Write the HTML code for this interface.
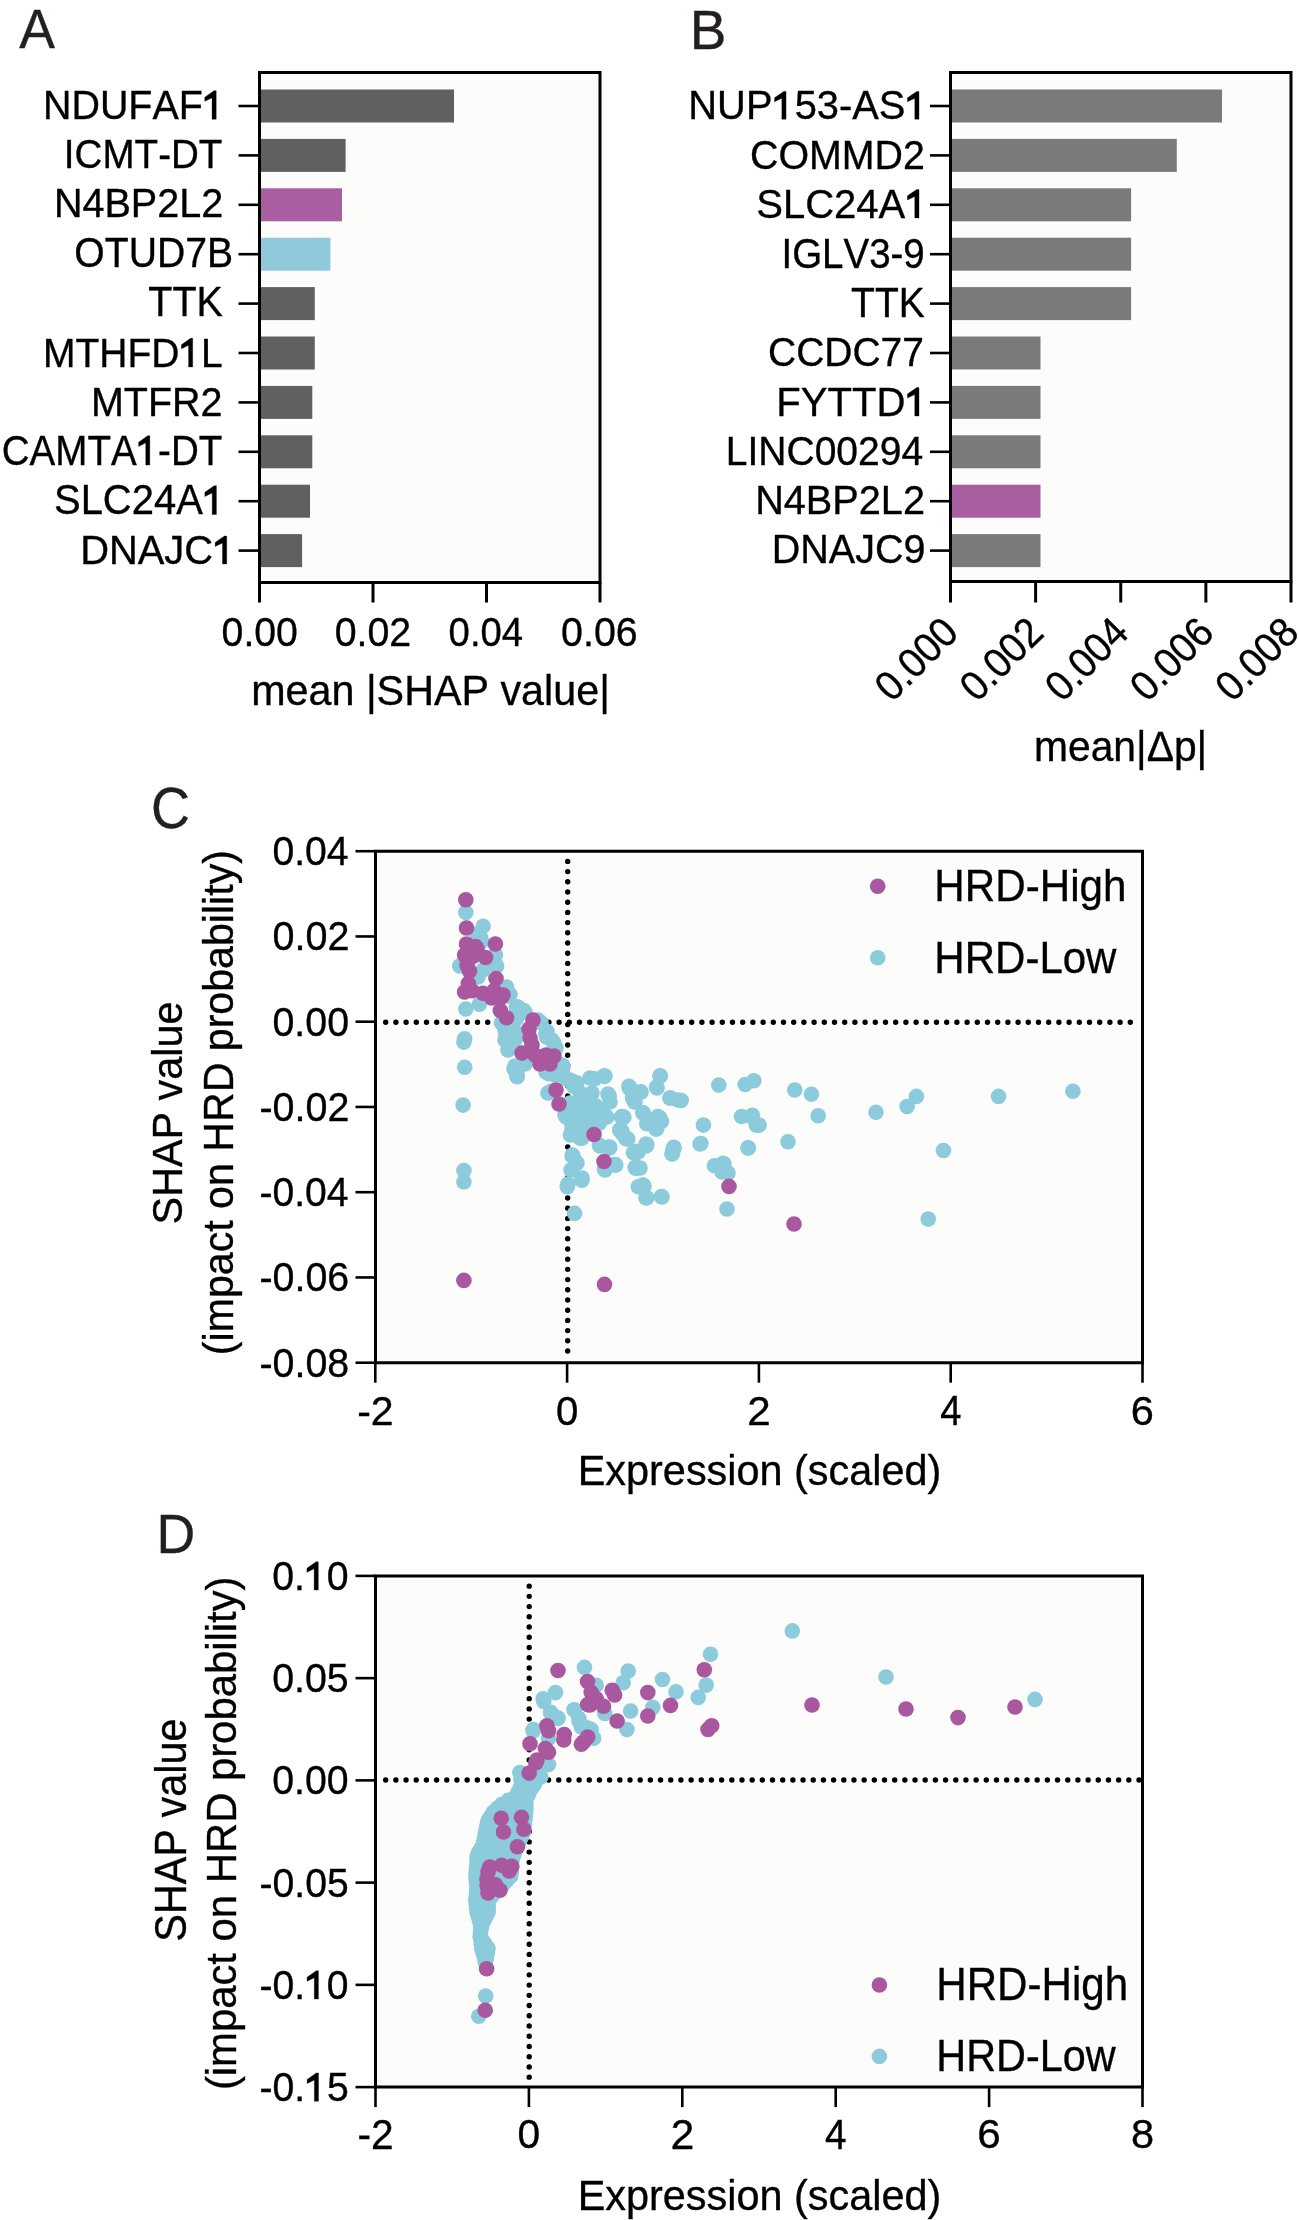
<!DOCTYPE html><html><head><meta charset="utf-8"><style>html,body{margin:0;padding:0;background:#fff;}svg{display:block;will-change:transform}text{font-family:"Liberation Sans", sans-serif;font-kerning:none;stroke-width:0.35px;}</style></head><body>
<svg width="1300" height="2220" viewBox="0 0 1300 2220">
<rect width="1300" height="2220" fill="#fff"/>
<rect x="259.5" y="72.5" width="340.5" height="510.0" fill="#fcfcfb"/>
<rect x="259.5" y="89.5" width="194.5" height="33" fill="#606060"/>
<rect x="259.5" y="138.9" width="86.1" height="33" fill="#606060"/>
<rect x="259.5" y="188.3" width="82.5" height="33" fill="#a85ea0"/>
<rect x="259.5" y="237.7" width="70.9" height="33" fill="#8fc9db"/>
<rect x="259.5" y="287.1" width="55.3" height="33" fill="#606060"/>
<rect x="259.5" y="336.5" width="55.3" height="33" fill="#606060"/>
<rect x="259.5" y="385.9" width="52.8" height="33" fill="#606060"/>
<rect x="259.5" y="435.3" width="52.8" height="33" fill="#606060"/>
<rect x="259.5" y="484.7" width="50.5" height="33" fill="#606060"/>
<rect x="259.5" y="534.1" width="42.6" height="33" fill="#606060"/>
<path d="M259.5,72.5H600V582.5H259.5Z" fill="none" stroke="#000" stroke-width="3"/>
<path d="M238.5,106H259.5" stroke="#000" stroke-width="2.6"/>
<path d="M238.5,155.4H259.5" stroke="#000" stroke-width="2.6"/>
<path d="M238.5,204.8H259.5" stroke="#000" stroke-width="2.6"/>
<path d="M238.5,254.2H259.5" stroke="#000" stroke-width="2.6"/>
<path d="M238.5,303.6H259.5" stroke="#000" stroke-width="2.6"/>
<path d="M238.5,353H259.5" stroke="#000" stroke-width="2.6"/>
<path d="M238.5,402.4H259.5" stroke="#000" stroke-width="2.6"/>
<path d="M238.5,451.8H259.5" stroke="#000" stroke-width="2.6"/>
<path d="M238.5,501.2H259.5" stroke="#000" stroke-width="2.6"/>
<path d="M238.5,550.6H259.5" stroke="#000" stroke-width="2.6"/>
<path d="M259.5,582.5V602.5" stroke="#000" stroke-width="3"/>
<path d="M373,582.5V602.5" stroke="#000" stroke-width="3"/>
<path d="M486.5,582.5V602.5" stroke="#000" stroke-width="3"/>
<path d="M600,582.5V602.5" stroke="#000" stroke-width="3"/>
<text transform="translate(42.97,119.2) scale(0.9549,1)" font-size="41.28" fill="#000" stroke="#000">NDUFAF </text>
<path transform="translate(42.97,119.2) scale(0.9549,1) translate(167.38,0) scale(0.02015,-0.02015)" d="M696,0L696,1409L582,1409L104,1091L104,888L481,1062L481,0Z" fill="#000" stroke="#000" stroke-width="0.35" vector-effect="non-scaling-stroke"/>
<text transform="translate(63.84,168.41) scale(0.9550,1)" font-size="40.40" fill="#000" stroke="#000">ICMT-DT</text>
<text transform="translate(53.96,216.8) scale(0.9652,1)" font-size="40.96" fill="#000" stroke="#000">N4BP2L2</text>
<text transform="translate(74.24,267.39) scale(0.9403,1)" font-size="41.67" fill="#000" stroke="#000">OTUD7B</text>
<text transform="translate(148.31,316.4) scale(0.9440,1)" font-size="41.86" fill="#000" stroke="#000">TTK</text>
<text transform="translate(43,366.9) scale(0.9379,1)" font-size="41.57" fill="#000" stroke="#000">MTHFD L</text>
<path transform="translate(43,366.9) scale(0.9379,1) translate(145.46,0) scale(0.02030,-0.02030)" d="M696,0L696,1409L582,1409L104,1091L104,888L481,1062L481,0Z" fill="#000" stroke="#000" stroke-width="0.35" vector-effect="non-scaling-stroke"/>
<text transform="translate(90.96,415.8) scale(0.9778,1)" font-size="40.39" fill="#000" stroke="#000">MTFR2</text>
<text transform="translate(1.74,464.98) scale(0.9040,1)" font-size="42.65" fill="#000" stroke="#000">CAMTA -DT</text>
<path transform="translate(1.74,464.98) scale(0.9040,1) translate(149.29,0) scale(0.02083,-0.02083)" d="M696,0L696,1409L582,1409L104,1091L104,888L481,1062L481,0Z" fill="#000" stroke="#000" stroke-width="0.35" vector-effect="non-scaling-stroke"/>
<text transform="translate(53.99,514.49) scale(0.9590,1)" font-size="41.67" fill="#000" stroke="#000">SLC24A </text>
<path transform="translate(53.99,514.49) scale(0.9590,1) translate(155.19,0) scale(0.02034,-0.02034)" d="M696,0L696,1409L582,1409L104,1091L104,888L481,1062L481,0Z" fill="#000" stroke="#000" stroke-width="0.35" vector-effect="non-scaling-stroke"/>
<text transform="translate(80.13,563.91) scale(0.9878,1)" font-size="40.40" fill="#000" stroke="#000">DNAJC </text>
<path transform="translate(80.13,563.91) scale(0.9878,1) translate(134.66,0) scale(0.01972,-0.01972)" d="M696,0L696,1409L582,1409L104,1091L104,888L481,1062L481,0Z" fill="#000" stroke="#000" stroke-width="0.35" vector-effect="non-scaling-stroke"/>
<text transform="translate(221.57,645.6) scale(0.9579,1)" font-size="40.96" fill="#000" stroke="#000">0.00</text>
<text transform="translate(334.66,645.6) scale(0.9611,1)" font-size="40.96" fill="#000" stroke="#000">0.02</text>
<text transform="translate(448.6,645.6) scale(0.9347,1)" font-size="40.96" fill="#000" stroke="#000">0.04</text>
<text transform="translate(561.06,645.6) scale(0.9617,1)" font-size="40.96" fill="#000" stroke="#000">0.06</text>
<text transform="translate(251.16,705.15) scale(0.9665,1)" font-size="42.71" fill="#000" stroke="#000">mean |SHAP value|</text>
<text transform="translate(19.3,48) scale(0.9617,1)" font-size="55.67" fill="#231f20" stroke="#231f20">A</text>
<rect x="950.5" y="72.5" width="340.5" height="509.0" fill="#fcfcfb"/>
<rect x="950.5" y="89.5" width="271.5" height="33" fill="#7a7a7a"/>
<rect x="950.5" y="138.9" width="226.3" height="33" fill="#7a7a7a"/>
<rect x="950.5" y="188.3" width="180.6" height="33" fill="#7a7a7a"/>
<rect x="950.5" y="237.7" width="180.6" height="33" fill="#7a7a7a"/>
<rect x="950.5" y="287.1" width="180.6" height="33" fill="#7a7a7a"/>
<rect x="950.5" y="336.5" width="90" height="33" fill="#7a7a7a"/>
<rect x="950.5" y="385.9" width="90" height="33" fill="#7a7a7a"/>
<rect x="950.5" y="435.3" width="90" height="33" fill="#7a7a7a"/>
<rect x="950.5" y="484.7" width="90" height="33" fill="#a85ea0"/>
<rect x="950.5" y="534.1" width="90" height="33" fill="#7a7a7a"/>
<path d="M950.5,72.5H1291V581.5H950.5Z" fill="none" stroke="#000" stroke-width="3"/>
<path d="M930,106H950.5" stroke="#000" stroke-width="2.6"/>
<path d="M930,155.4H950.5" stroke="#000" stroke-width="2.6"/>
<path d="M930,204.8H950.5" stroke="#000" stroke-width="2.6"/>
<path d="M930,254.2H950.5" stroke="#000" stroke-width="2.6"/>
<path d="M930,303.6H950.5" stroke="#000" stroke-width="2.6"/>
<path d="M930,353H950.5" stroke="#000" stroke-width="2.6"/>
<path d="M930,402.4H950.5" stroke="#000" stroke-width="2.6"/>
<path d="M930,451.8H950.5" stroke="#000" stroke-width="2.6"/>
<path d="M930,501.2H950.5" stroke="#000" stroke-width="2.6"/>
<path d="M930,550.6H950.5" stroke="#000" stroke-width="2.6"/>
<path d="M950.5,581.5V602.5" stroke="#000" stroke-width="3"/>
<path d="M1035.62,581.5V602.5" stroke="#000" stroke-width="3"/>
<path d="M1120.75,581.5V602.5" stroke="#000" stroke-width="3"/>
<path d="M1205.88,581.5V602.5" stroke="#000" stroke-width="3"/>
<path d="M1291,581.5V602.5" stroke="#000" stroke-width="3"/>
<text transform="translate(688.33,119.21) scale(0.9868,1)" font-size="40.40" fill="#000" stroke="#000">NUP 53-AS </text>
<path transform="translate(688.33,119.21) scale(0.9868,1) translate(85.29,0) scale(0.01972,-0.01972)" d="M696,0L696,1409L582,1409L104,1091L104,888L481,1062L481,0Z" fill="#000" stroke="#000" stroke-width="0.35" vector-effect="non-scaling-stroke"/>
<path transform="translate(688.33,119.21) scale(0.9868,1) translate(220.02,0) scale(0.01972,-0.01972)" d="M696,0L696,1409L582,1409L104,1091L104,888L481,1062L481,0Z" fill="#000" stroke="#000" stroke-width="0.35" vector-effect="non-scaling-stroke"/>
<text transform="translate(750,168.59) scale(0.9481,1)" font-size="41.52" fill="#000" stroke="#000">COMMD2</text>
<text transform="translate(756.18,217.99) scale(0.9647,1)" font-size="41.52" fill="#000" stroke="#000">SLC24A </text>
<path transform="translate(756.18,217.99) scale(0.9647,1) translate(154.66,0) scale(0.02028,-0.02028)" d="M696,0L696,1409L582,1409L104,1091L104,888L481,1062L481,0Z" fill="#000" stroke="#000" stroke-width="0.35" vector-effect="non-scaling-stroke"/>
<text transform="translate(781.45,267.59) scale(0.9086,1)" font-size="42.37" fill="#000" stroke="#000">IGLV3-9</text>
<text transform="translate(851.12,317) scale(0.9389,1)" font-size="41.57" fill="#000" stroke="#000">TTK</text>
<text transform="translate(768.02,366.01) scale(0.9716,1)" font-size="40.11" fill="#000" stroke="#000">CCDC77</text>
<text transform="translate(776.31,416) scale(0.9705,1)" font-size="41.28" fill="#000" stroke="#000">FYTTD </text>
<path transform="translate(776.31,416) scale(0.9705,1) translate(132.99,0) scale(0.02016,-0.02016)" d="M696,0L696,1409L582,1409L104,1091L104,888L481,1062L481,0Z" fill="#000" stroke="#000" stroke-width="0.35" vector-effect="non-scaling-stroke"/>
<text transform="translate(725.8,464.61) scale(0.9657,1)" font-size="40.40" fill="#000" stroke="#000">LINC00294</text>
<text transform="translate(755.15,514.4) scale(0.9894,1)" font-size="40.10" fill="#000" stroke="#000">N4BP2L2</text>
<text transform="translate(771.76,563.21) scale(0.9783,1)" font-size="40.40" fill="#000" stroke="#000">DNAJC9</text>
<text transform="translate(689.7,48.9) scale(0.9933,1)" font-size="55.23" fill="#231f20" stroke="#231f20">B</text>
<text transform="translate(891.9,703.3) rotate(-45) scale(0.9350,1)" font-size="41.50" fill="#000" stroke="#000">0.000</text>
<text transform="translate(977.02,703.3) rotate(-45) scale(0.9350,1)" font-size="41.50" fill="#000" stroke="#000">0.002</text>
<text transform="translate(1062.15,703.3) rotate(-45) scale(0.9350,1)" font-size="41.50" fill="#000" stroke="#000">0.004</text>
<text transform="translate(1147.28,703.3) rotate(-45) scale(0.9350,1)" font-size="41.50" fill="#000" stroke="#000">0.006</text>
<text transform="translate(1232.4,703.3) rotate(-45) scale(0.9350,1)" font-size="41.50" fill="#000" stroke="#000">0.008</text>
<text transform="translate(1033.99,760.69) scale(0.9604,1)" font-size="42.50" fill="#000" stroke="#000">mean|Δp|</text>
<rect x="375.5" y="851.2" width="767.0" height="511.5" fill="#fcfcfb"/>
<path d="M385.7,1022.2h0M395.9,1022.2h0M406.1,1022.2h0M416.3,1022.2h0M426.5,1022.2h0M436.7,1022.2h0M446.9,1022.2h0M457.1,1022.2h0M467.3,1022.2h0M477.5,1022.2h0M487.7,1022.2h0M497.9,1022.2h0M508.1,1022.2h0M518.3,1022.2h0M528.5,1022.2h0M538.7,1022.2h0M548.9,1022.2h0M559.1,1022.2h0M569.3,1022.2h0M579.5,1022.2h0M589.7,1022.2h0M599.9,1022.2h0M610.1,1022.2h0M620.3,1022.2h0M630.5,1022.2h0M640.7,1022.2h0M650.9,1022.2h0M661.1,1022.2h0M671.3,1022.2h0M681.5,1022.2h0M691.7,1022.2h0M701.9,1022.2h0M712.1,1022.2h0M722.3,1022.2h0M732.5,1022.2h0M742.7,1022.2h0M752.9,1022.2h0M763.1,1022.2h0M773.3,1022.2h0M783.5,1022.2h0M793.7,1022.2h0M803.9,1022.2h0M814.1,1022.2h0M824.3,1022.2h0M834.5,1022.2h0M844.7,1022.2h0M854.9,1022.2h0M865.1,1022.2h0M875.3,1022.2h0M885.5,1022.2h0M895.7,1022.2h0M905.9,1022.2h0M916.1,1022.2h0M926.3,1022.2h0M936.5,1022.2h0M946.7,1022.2h0M956.9,1022.2h0M967.1,1022.2h0M977.3,1022.2h0M987.5,1022.2h0M997.7,1022.2h0M1007.9,1022.2h0M1018.1,1022.2h0M1028.3,1022.2h0M1038.5,1022.2h0M1048.7,1022.2h0M1058.9,1022.2h0M1069.1,1022.2h0M1079.3,1022.2h0M1089.5,1022.2h0M1099.7,1022.2h0M1109.9,1022.2h0M1120.1,1022.2h0M1130.3,1022.2h0" stroke="#000" stroke-width="5.4" stroke-linecap="round" fill="none"/>
<path d="M567.7,861.4v0M567.7,871.6v0M567.7,881.8v0M567.7,892v0M567.7,902.2v0M567.7,912.4v0M567.7,922.6v0M567.7,932.8v0M567.7,943v0M567.7,953.2v0M567.7,963.4v0M567.7,973.6v0M567.7,983.8v0M567.7,994v0M567.7,1004.2v0M567.7,1014.4v0M567.7,1024.6v0M567.7,1034.8v0M567.7,1045v0M567.7,1055.2v0M567.7,1065.4v0M567.7,1075.6v0M567.7,1085.8v0M567.7,1096v0M567.7,1106.2v0M567.7,1116.4v0M567.7,1126.6v0M567.7,1136.8v0M567.7,1147v0M567.7,1157.2v0M567.7,1167.4v0M567.7,1177.6v0M567.7,1187.8v0M567.7,1198v0M567.7,1208.2v0M567.7,1218.4v0M567.7,1228.6v0M567.7,1238.8v0M567.7,1249v0M567.7,1259.2v0M567.7,1269.4v0M567.7,1279.6v0M567.7,1289.8v0M567.7,1300v0M567.7,1310.2v0M567.7,1320.4v0M567.7,1330.6v0M567.7,1340.8v0M567.7,1351v0" stroke="#000" stroke-width="5.4" stroke-linecap="round" fill="none"/>
<circle cx="465.8" cy="912.6" r="7.8" fill="#8ccbdc"/>
<circle cx="483.1" cy="926.2" r="7.8" fill="#8ccbdc"/>
<circle cx="477" cy="934" r="7.8" fill="#8ccbdc"/>
<circle cx="481.8" cy="941.5" r="7.8" fill="#8ccbdc"/>
<circle cx="495.4" cy="955" r="7.8" fill="#8ccbdc"/>
<circle cx="496.6" cy="966" r="7.8" fill="#8ccbdc"/>
<circle cx="459.7" cy="966" r="7.8" fill="#8ccbdc"/>
<circle cx="483" cy="970" r="7.8" fill="#8ccbdc"/>
<circle cx="478" cy="977" r="7.8" fill="#8ccbdc"/>
<circle cx="506.5" cy="987" r="7.8" fill="#8ccbdc"/>
<circle cx="510" cy="994.5" r="7.8" fill="#8ccbdc"/>
<circle cx="465.8" cy="1009" r="7.8" fill="#8ccbdc"/>
<circle cx="479.4" cy="1004.3" r="7.8" fill="#8ccbdc"/>
<circle cx="496" cy="966" r="7.8" fill="#8ccbdc"/>
<circle cx="507" cy="996" r="7.8" fill="#8ccbdc"/>
<circle cx="518" cy="1007" r="7.8" fill="#8ccbdc"/>
<circle cx="525" cy="1012" r="7.8" fill="#8ccbdc"/>
<circle cx="538" cy="1020" r="7.8" fill="#8ccbdc"/>
<circle cx="505" cy="1030" r="7.8" fill="#8ccbdc"/>
<circle cx="505" cy="1040" r="7.8" fill="#8ccbdc"/>
<circle cx="508" cy="1050" r="7.8" fill="#8ccbdc"/>
<circle cx="515" cy="1040" r="7.8" fill="#8ccbdc"/>
<circle cx="515" cy="1066" r="7.8" fill="#8ccbdc"/>
<circle cx="517" cy="1074" r="7.8" fill="#8ccbdc"/>
<circle cx="525" cy="1064" r="7.8" fill="#8ccbdc"/>
<circle cx="546" cy="1034" r="7.8" fill="#8ccbdc"/>
<circle cx="552" cy="1040" r="7.8" fill="#8ccbdc"/>
<circle cx="556" cy="1048" r="7.8" fill="#8ccbdc"/>
<circle cx="562" cy="1065" r="7.8" fill="#8ccbdc"/>
<circle cx="546" cy="1072" r="7.8" fill="#8ccbdc"/>
<circle cx="555" cy="1075" r="7.8" fill="#8ccbdc"/>
<circle cx="570" cy="1080" r="7.8" fill="#8ccbdc"/>
<circle cx="577" cy="1083" r="7.8" fill="#8ccbdc"/>
<circle cx="590" cy="1078" r="7.8" fill="#8ccbdc"/>
<circle cx="605" cy="1076" r="7.8" fill="#8ccbdc"/>
<circle cx="464.6" cy="1038.8" r="7.8" fill="#8ccbdc"/>
<circle cx="516.3" cy="1006.8" r="7.8" fill="#8ccbdc"/>
<circle cx="523.7" cy="1010.5" r="7.8" fill="#8ccbdc"/>
<circle cx="541" cy="1022.8" r="7.8" fill="#8ccbdc"/>
<circle cx="547" cy="1031.4" r="7.8" fill="#8ccbdc"/>
<circle cx="563" cy="1066" r="7.8" fill="#8ccbdc"/>
<circle cx="574" cy="1082" r="7.8" fill="#8ccbdc"/>
<circle cx="594" cy="1079" r="7.8" fill="#8ccbdc"/>
<circle cx="604" cy="1076" r="7.8" fill="#8ccbdc"/>
<circle cx="580" cy="1093" r="7.8" fill="#8ccbdc"/>
<circle cx="592" cy="1093" r="7.8" fill="#8ccbdc"/>
<circle cx="608" cy="1094" r="7.8" fill="#8ccbdc"/>
<circle cx="610" cy="1102" r="7.8" fill="#8ccbdc"/>
<circle cx="570" cy="1103" r="7.8" fill="#8ccbdc"/>
<circle cx="582" cy="1105" r="7.8" fill="#8ccbdc"/>
<circle cx="596" cy="1106" r="7.8" fill="#8ccbdc"/>
<circle cx="565" cy="1115" r="7.8" fill="#8ccbdc"/>
<circle cx="578" cy="1116" r="7.8" fill="#8ccbdc"/>
<circle cx="592" cy="1116" r="7.8" fill="#8ccbdc"/>
<circle cx="604" cy="1114" r="7.8" fill="#8ccbdc"/>
<circle cx="572" cy="1132" r="7.8" fill="#8ccbdc"/>
<circle cx="580" cy="1138" r="7.8" fill="#8ccbdc"/>
<circle cx="572" cy="1126" r="7.8" fill="#8ccbdc"/>
<circle cx="585" cy="1126" r="7.8" fill="#8ccbdc"/>
<circle cx="597" cy="1122" r="7.8" fill="#8ccbdc"/>
<circle cx="600" cy="1146" r="7.8" fill="#8ccbdc"/>
<circle cx="609" cy="1147" r="7.8" fill="#8ccbdc"/>
<circle cx="573" cy="1156" r="7.8" fill="#8ccbdc"/>
<circle cx="577" cy="1163" r="7.8" fill="#8ccbdc"/>
<circle cx="571" cy="1170" r="7.8" fill="#8ccbdc"/>
<circle cx="582" cy="1178" r="7.8" fill="#8ccbdc"/>
<circle cx="568" cy="1184" r="7.8" fill="#8ccbdc"/>
<circle cx="605" cy="1170" r="7.8" fill="#8ccbdc"/>
<circle cx="615" cy="1165" r="7.8" fill="#8ccbdc"/>
<circle cx="630" cy="1088" r="7.8" fill="#8ccbdc"/>
<circle cx="641" cy="1092" r="7.8" fill="#8ccbdc"/>
<circle cx="635" cy="1102" r="7.8" fill="#8ccbdc"/>
<circle cx="660" cy="1076" r="7.8" fill="#8ccbdc"/>
<circle cx="657" cy="1088" r="7.8" fill="#8ccbdc"/>
<circle cx="670" cy="1098" r="7.8" fill="#8ccbdc"/>
<circle cx="678" cy="1100" r="7.8" fill="#8ccbdc"/>
<circle cx="622" cy="1117" r="7.8" fill="#8ccbdc"/>
<circle cx="643" cy="1113" r="7.8" fill="#8ccbdc"/>
<circle cx="650" cy="1120" r="7.8" fill="#8ccbdc"/>
<circle cx="660" cy="1118" r="7.8" fill="#8ccbdc"/>
<circle cx="656" cy="1129" r="7.8" fill="#8ccbdc"/>
<circle cx="620" cy="1130" r="7.8" fill="#8ccbdc"/>
<circle cx="626" cy="1138" r="7.8" fill="#8ccbdc"/>
<circle cx="646" cy="1144" r="7.8" fill="#8ccbdc"/>
<circle cx="638" cy="1152" r="7.8" fill="#8ccbdc"/>
<circle cx="636" cy="1168" r="7.8" fill="#8ccbdc"/>
<circle cx="673" cy="1149" r="7.8" fill="#8ccbdc"/>
<circle cx="643" cy="1185" r="7.8" fill="#8ccbdc"/>
<circle cx="463.9" cy="1042.1" r="7.8" fill="#8ccbdc"/>
<circle cx="464.7" cy="1067.2" r="7.8" fill="#8ccbdc"/>
<circle cx="463.1" cy="1105.1" r="7.8" fill="#8ccbdc"/>
<circle cx="463.9" cy="1170.5" r="7.8" fill="#8ccbdc"/>
<circle cx="463.9" cy="1181.9" r="7.8" fill="#8ccbdc"/>
<circle cx="567.3" cy="1186.7" r="7.8" fill="#8ccbdc"/>
<circle cx="574.6" cy="1213.4" r="7.8" fill="#8ccbdc"/>
<circle cx="581.9" cy="1180.2" r="7.8" fill="#8ccbdc"/>
<circle cx="514" cy="1068.8" r="7.8" fill="#8ccbdc"/>
<circle cx="517.2" cy="1076.8" r="7.8" fill="#8ccbdc"/>
<circle cx="547.9" cy="1093" r="7.8" fill="#8ccbdc"/>
<circle cx="609.8" cy="1147.2" r="7.8" fill="#8ccbdc"/>
<circle cx="614.8" cy="1164.5" r="7.8" fill="#8ccbdc"/>
<circle cx="604.9" cy="1169.4" r="7.8" fill="#8ccbdc"/>
<circle cx="636.9" cy="1152.2" r="7.8" fill="#8ccbdc"/>
<circle cx="646.8" cy="1144.8" r="7.8" fill="#8ccbdc"/>
<circle cx="635.7" cy="1168.2" r="7.8" fill="#8ccbdc"/>
<circle cx="673.8" cy="1147.2" r="7.8" fill="#8ccbdc"/>
<circle cx="672.6" cy="1153.4" r="7.8" fill="#8ccbdc"/>
<circle cx="643.1" cy="1185.4" r="7.8" fill="#8ccbdc"/>
<circle cx="646.8" cy="1197.7" r="7.8" fill="#8ccbdc"/>
<circle cx="661.5" cy="1196.5" r="7.8" fill="#8ccbdc"/>
<circle cx="703.4" cy="1125.1" r="7.8" fill="#8ccbdc"/>
<circle cx="700.9" cy="1143.5" r="7.8" fill="#8ccbdc"/>
<circle cx="718.8" cy="1085.1" r="7.8" fill="#8ccbdc"/>
<circle cx="745.2" cy="1084.5" r="7.8" fill="#8ccbdc"/>
<circle cx="753.8" cy="1080.8" r="7.8" fill="#8ccbdc"/>
<circle cx="741.5" cy="1116.5" r="7.8" fill="#8ccbdc"/>
<circle cx="751.4" cy="1116.5" r="7.8" fill="#8ccbdc"/>
<circle cx="756.3" cy="1125.1" r="7.8" fill="#8ccbdc"/>
<circle cx="748.3" cy="1147.8" r="7.8" fill="#8ccbdc"/>
<circle cx="714.5" cy="1165.7" r="7.8" fill="#8ccbdc"/>
<circle cx="723.1" cy="1163.2" r="7.8" fill="#8ccbdc"/>
<circle cx="728" cy="1173.1" r="7.8" fill="#8ccbdc"/>
<circle cx="727" cy="1209" r="7.8" fill="#8ccbdc"/>
<circle cx="629.5" cy="1088.2" r="7.8" fill="#8ccbdc"/>
<circle cx="640.6" cy="1091.8" r="7.8" fill="#8ccbdc"/>
<circle cx="634.5" cy="1101.7" r="7.8" fill="#8ccbdc"/>
<circle cx="622.2" cy="1116.5" r="7.8" fill="#8ccbdc"/>
<circle cx="619.7" cy="1130" r="7.8" fill="#8ccbdc"/>
<circle cx="625.8" cy="1138.6" r="7.8" fill="#8ccbdc"/>
<circle cx="643.1" cy="1112.8" r="7.8" fill="#8ccbdc"/>
<circle cx="657.8" cy="1116.5" r="7.8" fill="#8ccbdc"/>
<circle cx="661.5" cy="1121.4" r="7.8" fill="#8ccbdc"/>
<circle cx="656.6" cy="1128.8" r="7.8" fill="#8ccbdc"/>
<circle cx="646.8" cy="1123.8" r="7.8" fill="#8ccbdc"/>
<circle cx="660.3" cy="1075.8" r="7.8" fill="#8ccbdc"/>
<circle cx="656.6" cy="1086.9" r="7.8" fill="#8ccbdc"/>
<circle cx="670.2" cy="1098" r="7.8" fill="#8ccbdc"/>
<circle cx="681.2" cy="1100.5" r="7.8" fill="#8ccbdc"/>
<circle cx="794.8" cy="1090" r="7.8" fill="#8ccbdc"/>
<circle cx="811.4" cy="1094.3" r="7.8" fill="#8ccbdc"/>
<circle cx="818.2" cy="1115.8" r="7.8" fill="#8ccbdc"/>
<circle cx="788" cy="1141.7" r="7.8" fill="#8ccbdc"/>
<circle cx="752.3" cy="1115.2" r="7.8" fill="#8ccbdc"/>
<circle cx="759.1" cy="1125.1" r="7.8" fill="#8ccbdc"/>
<circle cx="876" cy="1112.2" r="7.8" fill="#8ccbdc"/>
<circle cx="907.1" cy="1106.5" r="7.8" fill="#8ccbdc"/>
<circle cx="916.4" cy="1096.4" r="7.8" fill="#8ccbdc"/>
<circle cx="998.5" cy="1096.4" r="7.8" fill="#8ccbdc"/>
<circle cx="1072.9" cy="1091.3" r="7.8" fill="#8ccbdc"/>
<circle cx="943.5" cy="1150.5" r="7.8" fill="#8ccbdc"/>
<circle cx="928.2" cy="1219.1" r="7.8" fill="#8ccbdc"/>
<circle cx="748" cy="1148" r="7.8" fill="#8ccbdc"/>
<circle cx="720" cy="1166" r="7.8" fill="#8ccbdc"/>
<circle cx="724" cy="1164" r="7.8" fill="#8ccbdc"/>
<circle cx="722" cy="1172" r="7.8" fill="#8ccbdc"/>
<circle cx="700" cy="1144" r="7.8" fill="#8ccbdc"/>
<circle cx="674" cy="1148" r="7.8" fill="#8ccbdc"/>
<circle cx="672" cy="1154" r="7.8" fill="#8ccbdc"/>
<circle cx="646" cy="1146" r="7.8" fill="#8ccbdc"/>
<circle cx="644" cy="1186" r="7.8" fill="#8ccbdc"/>
<circle cx="646" cy="1198" r="7.8" fill="#8ccbdc"/>
<circle cx="662" cy="1197" r="7.8" fill="#8ccbdc"/>
<circle cx="640" cy="1168" r="7.8" fill="#8ccbdc"/>
<circle cx="622.2" cy="1133.4" r="7.8" fill="#8ccbdc"/>
<circle cx="623.9" cy="1117.2" r="7.8" fill="#8ccbdc"/>
<circle cx="633.6" cy="1152.8" r="7.8" fill="#8ccbdc"/>
<circle cx="635.2" cy="1167.3" r="7.8" fill="#8ccbdc"/>
<circle cx="638.4" cy="1186.7" r="7.8" fill="#8ccbdc"/>
<circle cx="609.3" cy="1147.9" r="7.8" fill="#8ccbdc"/>
<circle cx="615.8" cy="1164.9" r="7.8" fill="#8ccbdc"/>
<circle cx="604.5" cy="1169" r="7.8" fill="#8ccbdc"/>
<circle cx="570.5" cy="1135" r="7.8" fill="#8ccbdc"/>
<circle cx="581.9" cy="1138.2" r="7.8" fill="#8ccbdc"/>
<circle cx="572.2" cy="1156" r="7.8" fill="#8ccbdc"/>
<circle cx="575.4" cy="1164" r="7.8" fill="#8ccbdc"/>
<circle cx="505.8" cy="1036.9" r="7.8" fill="#8ccbdc"/>
<circle cx="508.3" cy="1049.2" r="7.8" fill="#8ccbdc"/>
<circle cx="516.9" cy="1068.9" r="7.8" fill="#8ccbdc"/>
<circle cx="516.9" cy="1076.3" r="7.8" fill="#8ccbdc"/>
<circle cx="546.5" cy="1036.9" r="7.8" fill="#8ccbdc"/>
<circle cx="553.8" cy="1043.1" r="7.8" fill="#8ccbdc"/>
<circle cx="548.9" cy="1073.8" r="7.8" fill="#8ccbdc"/>
<circle cx="562.5" cy="1068.9" r="7.8" fill="#8ccbdc"/>
<circle cx="566.2" cy="1078.8" r="7.8" fill="#8ccbdc"/>
<circle cx="551.4" cy="1091.1" r="7.8" fill="#8ccbdc"/>
<circle cx="573.5" cy="1086.2" r="7.8" fill="#8ccbdc"/>
<circle cx="594.5" cy="1078.8" r="7.8" fill="#8ccbdc"/>
<circle cx="604.3" cy="1076.3" r="7.8" fill="#8ccbdc"/>
<circle cx="587.1" cy="1098.5" r="7.8" fill="#8ccbdc"/>
<circle cx="609.2" cy="1096" r="7.8" fill="#8ccbdc"/>
<circle cx="566.2" cy="1116.9" r="7.8" fill="#8ccbdc"/>
<circle cx="578.5" cy="1110.8" r="7.8" fill="#8ccbdc"/>
<circle cx="596.9" cy="1110.8" r="7.8" fill="#8ccbdc"/>
<circle cx="606.8" cy="1116.9" r="7.8" fill="#8ccbdc"/>
<circle cx="572.3" cy="1129.2" r="7.8" fill="#8ccbdc"/>
<circle cx="580.9" cy="1137.8" r="7.8" fill="#8ccbdc"/>
<circle cx="599.4" cy="1123.1" r="7.8" fill="#8ccbdc"/>
<circle cx="628.9" cy="1086.2" r="7.8" fill="#8ccbdc"/>
<circle cx="632.6" cy="1098.5" r="7.8" fill="#8ccbdc"/>
<circle cx="621.5" cy="1116.9" r="7.8" fill="#8ccbdc"/>
<circle cx="621.5" cy="1130.5" r="7.8" fill="#8ccbdc"/>
<circle cx="627.7" cy="1139.1" r="7.8" fill="#8ccbdc"/>
<circle cx="599.4" cy="1145.2" r="7.8" fill="#8ccbdc"/>
<circle cx="609.2" cy="1147.7" r="7.8" fill="#8ccbdc"/>
<circle cx="572.3" cy="1155.1" r="7.8" fill="#8ccbdc"/>
<circle cx="636.3" cy="1151.4" r="7.8" fill="#8ccbdc"/>
<circle cx="501.5" cy="1022.8" r="7.8" fill="#8ccbdc"/>
<circle cx="506.5" cy="1031.4" r="7.8" fill="#8ccbdc"/>
<circle cx="516.3" cy="1019" r="7.8" fill="#8ccbdc"/>
<circle cx="516.3" cy="1032.6" r="7.8" fill="#8ccbdc"/>
<circle cx="480.6" cy="937.8" r="7.8" fill="#8ccbdc"/>
<circle cx="494.2" cy="963.7" r="7.8" fill="#8ccbdc"/>
<circle cx="465.8" cy="899.7" r="7.8" fill="#a9579f"/>
<circle cx="466.5" cy="928" r="7.8" fill="#a9579f"/>
<circle cx="466.5" cy="944" r="7.8" fill="#a9579f"/>
<circle cx="475.7" cy="946.5" r="7.8" fill="#a9579f"/>
<circle cx="477" cy="949" r="7.8" fill="#a9579f"/>
<circle cx="464.6" cy="955" r="7.8" fill="#a9579f"/>
<circle cx="473.2" cy="956.3" r="7.8" fill="#a9579f"/>
<circle cx="485.5" cy="957.5" r="7.8" fill="#a9579f"/>
<circle cx="467" cy="965" r="7.8" fill="#a9579f"/>
<circle cx="469.5" cy="971" r="7.8" fill="#a9579f"/>
<circle cx="495.4" cy="944" r="7.8" fill="#a9579f"/>
<circle cx="468.3" cy="983.4" r="7.8" fill="#a9579f"/>
<circle cx="464.6" cy="992" r="7.8" fill="#a9579f"/>
<circle cx="472" cy="990.8" r="7.8" fill="#a9579f"/>
<circle cx="496" cy="978.5" r="7.8" fill="#a9579f"/>
<circle cx="483" cy="993.2" r="7.8" fill="#a9579f"/>
<circle cx="494" cy="990.8" r="7.8" fill="#a9579f"/>
<circle cx="501.5" cy="997" r="7.8" fill="#a9579f"/>
<circle cx="491.7" cy="998" r="7.8" fill="#a9579f"/>
<circle cx="503" cy="995" r="7.8" fill="#a9579f"/>
<circle cx="500.3" cy="1010.5" r="7.8" fill="#a9579f"/>
<circle cx="506.5" cy="1017.8" r="7.8" fill="#a9579f"/>
<circle cx="533" cy="1020" r="7.8" fill="#a9579f"/>
<circle cx="529" cy="1029" r="7.8" fill="#a9579f"/>
<circle cx="530" cy="1038" r="7.8" fill="#a9579f"/>
<circle cx="532" cy="1045" r="7.8" fill="#a9579f"/>
<circle cx="522" cy="1053" r="7.8" fill="#a9579f"/>
<circle cx="535" cy="1055" r="7.8" fill="#a9579f"/>
<circle cx="546" cy="1055" r="7.8" fill="#a9579f"/>
<circle cx="554" cy="1056" r="7.8" fill="#a9579f"/>
<circle cx="540" cy="1064" r="7.8" fill="#a9579f"/>
<circle cx="550" cy="1064" r="7.8" fill="#a9579f"/>
<circle cx="556" cy="1090" r="7.8" fill="#a9579f"/>
<circle cx="559" cy="1104" r="7.8" fill="#a9579f"/>
<circle cx="594" cy="1134.5" r="7.8" fill="#a9579f"/>
<circle cx="604" cy="1161.5" r="7.8" fill="#a9579f"/>
<circle cx="463.9" cy="1280.4" r="7.8" fill="#a9579f"/>
<circle cx="604.5" cy="1284.4" r="7.8" fill="#a9579f"/>
<circle cx="729" cy="1186.4" r="7.8" fill="#a9579f"/>
<circle cx="794" cy="1224" r="7.8" fill="#a9579f"/>
<circle cx="877.7" cy="886.2" r="7.8" fill="#a9579f"/>
<circle cx="877.7" cy="957.8" r="7.8" fill="#8ccbdc"/>
<text transform="translate(934.34,901.3) scale(0.9357,1)" font-size="45.06" fill="#000" stroke="#000">HRD-High</text>
<text transform="translate(934.35,972.8) scale(0.9327,1)" font-size="45.06" fill="#000" stroke="#000">HRD-Low</text>
<path d="M375.5,851.2H1142.5V1362.7H375.5Z" fill="none" stroke="#000" stroke-width="3"/>
<path d="M355.5,851.2H375.5" stroke="#000" stroke-width="2.6"/>
<path d="M355.5,936.45H375.5" stroke="#000" stroke-width="2.6"/>
<path d="M355.5,1021.7H375.5" stroke="#000" stroke-width="2.6"/>
<path d="M355.5,1106.95H375.5" stroke="#000" stroke-width="2.6"/>
<path d="M355.5,1192.2H375.5" stroke="#000" stroke-width="2.6"/>
<path d="M355.5,1277.45H375.5" stroke="#000" stroke-width="2.6"/>
<path d="M355.5,1362.7H375.5" stroke="#000" stroke-width="2.6"/>
<path d="M375.3,1362.7V1382.7" stroke="#000" stroke-width="2.6"/>
<path d="M567.1,1362.7V1382.7" stroke="#000" stroke-width="2.6"/>
<path d="M758.9,1362.7V1382.7" stroke="#000" stroke-width="2.6"/>
<path d="M950.7,1362.7V1382.7" stroke="#000" stroke-width="2.6"/>
<path d="M1142.5,1362.7V1382.7" stroke="#000" stroke-width="2.6"/>
<text transform="translate(357.18,1425.4) scale(0.9914,1)" font-size="41.39" fill="#000" stroke="#000">-2</text>
<text transform="translate(555.93,1425) scale(0.9840,1)" font-size="40.82" fill="#000" stroke="#000">0</text>
<text transform="translate(747.18,1425.4) scale(1.0183,1)" font-size="41.39" fill="#000" stroke="#000">2</text>
<text transform="translate(940.23,1425.4) scale(0.9071,1)" font-size="42.01" fill="#000" stroke="#000">4</text>
<text transform="translate(1130.79,1425) scale(1.0194,1)" font-size="40.82" fill="#000" stroke="#000">6</text>
<text transform="translate(272.47,865.06) scale(0.9723,1)" font-size="40.25" fill="#000" stroke="#000">0.04</text>
<text transform="translate(272.45,950.31) scale(0.9833,1)" font-size="40.25" fill="#000" stroke="#000">0.02</text>
<text transform="translate(272.46,1035.56) scale(0.9774,1)" font-size="40.25" fill="#000" stroke="#000">0.00</text>
<text transform="translate(259.44,1120.81) scale(0.9814,1)" font-size="40.25" fill="#000" stroke="#000">-0.02</text>
<text transform="translate(259.46,1206.06) scale(0.9720,1)" font-size="40.25" fill="#000" stroke="#000">-0.04</text>
<text transform="translate(259.45,1291.31) scale(0.9785,1)" font-size="40.25" fill="#000" stroke="#000">-0.06</text>
<text transform="translate(259.45,1376.56) scale(0.9783,1)" font-size="40.25" fill="#000" stroke="#000">-0.08</text>
<text transform="translate(181.58,1224.58) rotate(-90) scale(0.9648,1)" font-size="42.89" fill="#000" stroke="#000">SHAP value</text>
<text transform="translate(232.68,1355.15) rotate(-90) scale(0.9686,1)" font-size="42.48" fill="#000" stroke="#000">(impact on HRD probability)</text>
<text transform="translate(577.7,1484.53) scale(0.9582,1)" font-size="43.23" fill="#000" stroke="#000">Expression (scaled)</text>
<text transform="translate(151.06,828.04) scale(0.9417,1)" font-size="57.34" fill="#231f20" stroke="#231f20">C</text>
<rect x="375.5" y="1575.9" width="767.0" height="511.1999999999998" fill="#fcfcfb"/>
<path d="M385.68,1780h0M395.86,1780h0M406.04,1780h0M416.22,1780h0M426.4,1780h0M436.58,1780h0M446.76,1780h0M456.94,1780h0M467.12,1780h0M477.3,1780h0M487.48,1780h0M497.66,1780h0M507.84,1780h0M518.02,1780h0M528.2,1780h0M538.38,1780h0M548.56,1780h0M558.74,1780h0M568.92,1780h0M579.1,1780h0M589.28,1780h0M599.46,1780h0M609.64,1780h0M619.82,1780h0M630,1780h0M640.18,1780h0M650.36,1780h0M660.54,1780h0M670.72,1780h0M680.9,1780h0M691.08,1780h0M701.26,1780h0M711.44,1780h0M721.62,1780h0M731.8,1780h0M741.98,1780h0M752.16,1780h0M762.34,1780h0M772.52,1780h0M782.7,1780h0M792.88,1780h0M803.06,1780h0M813.24,1780h0M823.42,1780h0M833.6,1780h0M843.78,1780h0M853.96,1780h0M864.14,1780h0M874.32,1780h0M884.5,1780h0M894.68,1780h0M904.86,1780h0M915.04,1780h0M925.22,1780h0M935.4,1780h0M945.58,1780h0M955.76,1780h0M965.94,1780h0M976.12,1780h0M986.3,1780h0M996.48,1780h0M1006.66,1780h0M1016.84,1780h0M1027.02,1780h0M1037.2,1780h0M1047.38,1780h0M1057.56,1780h0M1067.74,1780h0M1077.92,1780h0M1088.1,1780h0M1098.28,1780h0M1108.46,1780h0M1118.64,1780h0M1128.82,1780h0M1139,1780h0" stroke="#000" stroke-width="5.4" stroke-linecap="round" fill="none"/>
<path d="M529.2,1586.13v0M529.2,1596.36v0M529.2,1606.59v0M529.2,1616.82v0M529.2,1627.05v0M529.2,1637.28v0M529.2,1647.51v0M529.2,1657.74v0M529.2,1667.97v0M529.2,1678.2v0M529.2,1688.43v0M529.2,1698.66v0M529.2,1708.89v0M529.2,1719.12v0M529.2,1729.35v0M529.2,1739.58v0M529.2,1749.81v0M529.2,1760.04v0M529.2,1770.27v0M529.2,1780.5v0M529.2,1790.73v0M529.2,1800.96v0M529.2,1811.19v0M529.2,1821.42v0M529.2,1831.65v0M529.2,1841.88v0M529.2,1852.11v0M529.2,1862.34v0M529.2,1872.57v0M529.2,1882.8v0M529.2,1893.03v0M529.2,1903.26v0M529.2,1913.49v0M529.2,1923.72v0M529.2,1933.95v0M529.2,1944.18v0M529.2,1954.41v0M529.2,1964.64v0M529.2,1974.87v0M529.2,1985.1v0M529.2,1995.33v0M529.2,2005.56v0M529.2,2015.79v0M529.2,2026.02v0M529.2,2036.25v0M529.2,2046.48v0M529.2,2056.71v0M529.2,2066.94v0M529.2,2077.17v0" stroke="#000" stroke-width="5.4" stroke-linecap="round" fill="none"/>
<circle cx="522" cy="1784.3" r="7.8" fill="#8ccbdc"/>
<circle cx="528.2" cy="1784.3" r="7.8" fill="#8ccbdc"/>
<circle cx="534.4" cy="1784.3" r="7.8" fill="#8ccbdc"/>
<circle cx="520" cy="1788.3" r="7.8" fill="#8ccbdc"/>
<circle cx="525.81" cy="1788.3" r="7.8" fill="#8ccbdc"/>
<circle cx="531.61" cy="1788.3" r="7.8" fill="#8ccbdc"/>
<circle cx="518" cy="1792.3" r="7.8" fill="#8ccbdc"/>
<circle cx="523.41" cy="1792.3" r="7.8" fill="#8ccbdc"/>
<circle cx="528.83" cy="1792.3" r="7.8" fill="#8ccbdc"/>
<circle cx="516" cy="1796.3" r="7.8" fill="#8ccbdc"/>
<circle cx="521.02" cy="1796.3" r="7.8" fill="#8ccbdc"/>
<circle cx="526.04" cy="1796.3" r="7.8" fill="#8ccbdc"/>
<circle cx="508.36" cy="1800.3" r="7.8" fill="#8ccbdc"/>
<circle cx="512.75" cy="1800.3" r="7.8" fill="#8ccbdc"/>
<circle cx="517.13" cy="1800.3" r="7.8" fill="#8ccbdc"/>
<circle cx="521.52" cy="1800.3" r="7.8" fill="#8ccbdc"/>
<circle cx="525.9" cy="1800.3" r="7.8" fill="#8ccbdc"/>
<circle cx="501.84" cy="1804.3" r="7.8" fill="#8ccbdc"/>
<circle cx="506.65" cy="1804.3" r="7.8" fill="#8ccbdc"/>
<circle cx="511.46" cy="1804.3" r="7.8" fill="#8ccbdc"/>
<circle cx="516.28" cy="1804.3" r="7.8" fill="#8ccbdc"/>
<circle cx="521.09" cy="1804.3" r="7.8" fill="#8ccbdc"/>
<circle cx="525.9" cy="1804.3" r="7.8" fill="#8ccbdc"/>
<circle cx="497.23" cy="1808.3" r="7.8" fill="#8ccbdc"/>
<circle cx="502.01" cy="1808.3" r="7.8" fill="#8ccbdc"/>
<circle cx="506.79" cy="1808.3" r="7.8" fill="#8ccbdc"/>
<circle cx="511.56" cy="1808.3" r="7.8" fill="#8ccbdc"/>
<circle cx="516.34" cy="1808.3" r="7.8" fill="#8ccbdc"/>
<circle cx="521.12" cy="1808.3" r="7.8" fill="#8ccbdc"/>
<circle cx="525.9" cy="1808.3" r="7.8" fill="#8ccbdc"/>
<circle cx="493.25" cy="1812.3" r="7.8" fill="#8ccbdc"/>
<circle cx="497.89" cy="1812.3" r="7.8" fill="#8ccbdc"/>
<circle cx="502.53" cy="1812.3" r="7.8" fill="#8ccbdc"/>
<circle cx="507.18" cy="1812.3" r="7.8" fill="#8ccbdc"/>
<circle cx="511.82" cy="1812.3" r="7.8" fill="#8ccbdc"/>
<circle cx="516.46" cy="1812.3" r="7.8" fill="#8ccbdc"/>
<circle cx="521.11" cy="1812.3" r="7.8" fill="#8ccbdc"/>
<circle cx="525.75" cy="1812.3" r="7.8" fill="#8ccbdc"/>
<circle cx="490.73" cy="1816.3" r="7.8" fill="#8ccbdc"/>
<circle cx="495.66" cy="1816.3" r="7.8" fill="#8ccbdc"/>
<circle cx="500.59" cy="1816.3" r="7.8" fill="#8ccbdc"/>
<circle cx="505.53" cy="1816.3" r="7.8" fill="#8ccbdc"/>
<circle cx="510.46" cy="1816.3" r="7.8" fill="#8ccbdc"/>
<circle cx="515.39" cy="1816.3" r="7.8" fill="#8ccbdc"/>
<circle cx="520.32" cy="1816.3" r="7.8" fill="#8ccbdc"/>
<circle cx="525.26" cy="1816.3" r="7.8" fill="#8ccbdc"/>
<circle cx="488.21" cy="1820.3" r="7.8" fill="#8ccbdc"/>
<circle cx="493.44" cy="1820.3" r="7.8" fill="#8ccbdc"/>
<circle cx="498.66" cy="1820.3" r="7.8" fill="#8ccbdc"/>
<circle cx="503.88" cy="1820.3" r="7.8" fill="#8ccbdc"/>
<circle cx="509.1" cy="1820.3" r="7.8" fill="#8ccbdc"/>
<circle cx="514.32" cy="1820.3" r="7.8" fill="#8ccbdc"/>
<circle cx="519.54" cy="1820.3" r="7.8" fill="#8ccbdc"/>
<circle cx="524.76" cy="1820.3" r="7.8" fill="#8ccbdc"/>
<circle cx="487.21" cy="1824.3" r="7.8" fill="#8ccbdc"/>
<circle cx="492.51" cy="1824.3" r="7.8" fill="#8ccbdc"/>
<circle cx="497.82" cy="1824.3" r="7.8" fill="#8ccbdc"/>
<circle cx="503.12" cy="1824.3" r="7.8" fill="#8ccbdc"/>
<circle cx="508.42" cy="1824.3" r="7.8" fill="#8ccbdc"/>
<circle cx="513.72" cy="1824.3" r="7.8" fill="#8ccbdc"/>
<circle cx="519.02" cy="1824.3" r="7.8" fill="#8ccbdc"/>
<circle cx="524.33" cy="1824.3" r="7.8" fill="#8ccbdc"/>
<circle cx="486.42" cy="1828.3" r="7.8" fill="#8ccbdc"/>
<circle cx="491.78" cy="1828.3" r="7.8" fill="#8ccbdc"/>
<circle cx="497.13" cy="1828.3" r="7.8" fill="#8ccbdc"/>
<circle cx="502.49" cy="1828.3" r="7.8" fill="#8ccbdc"/>
<circle cx="507.84" cy="1828.3" r="7.8" fill="#8ccbdc"/>
<circle cx="513.19" cy="1828.3" r="7.8" fill="#8ccbdc"/>
<circle cx="518.55" cy="1828.3" r="7.8" fill="#8ccbdc"/>
<circle cx="523.9" cy="1828.3" r="7.8" fill="#8ccbdc"/>
<circle cx="485.64" cy="1832.3" r="7.8" fill="#8ccbdc"/>
<circle cx="490.37" cy="1832.3" r="7.8" fill="#8ccbdc"/>
<circle cx="495.1" cy="1832.3" r="7.8" fill="#8ccbdc"/>
<circle cx="499.83" cy="1832.3" r="7.8" fill="#8ccbdc"/>
<circle cx="504.56" cy="1832.3" r="7.8" fill="#8ccbdc"/>
<circle cx="509.29" cy="1832.3" r="7.8" fill="#8ccbdc"/>
<circle cx="514.02" cy="1832.3" r="7.8" fill="#8ccbdc"/>
<circle cx="518.74" cy="1832.3" r="7.8" fill="#8ccbdc"/>
<circle cx="523.47" cy="1832.3" r="7.8" fill="#8ccbdc"/>
<circle cx="484.85" cy="1836.3" r="7.8" fill="#8ccbdc"/>
<circle cx="490.13" cy="1836.3" r="7.8" fill="#8ccbdc"/>
<circle cx="495.4" cy="1836.3" r="7.8" fill="#8ccbdc"/>
<circle cx="500.68" cy="1836.3" r="7.8" fill="#8ccbdc"/>
<circle cx="505.95" cy="1836.3" r="7.8" fill="#8ccbdc"/>
<circle cx="511.23" cy="1836.3" r="7.8" fill="#8ccbdc"/>
<circle cx="516.5" cy="1836.3" r="7.8" fill="#8ccbdc"/>
<circle cx="521.78" cy="1836.3" r="7.8" fill="#8ccbdc"/>
<circle cx="484.06" cy="1840.3" r="7.8" fill="#8ccbdc"/>
<circle cx="489.17" cy="1840.3" r="7.8" fill="#8ccbdc"/>
<circle cx="494.28" cy="1840.3" r="7.8" fill="#8ccbdc"/>
<circle cx="499.38" cy="1840.3" r="7.8" fill="#8ccbdc"/>
<circle cx="504.49" cy="1840.3" r="7.8" fill="#8ccbdc"/>
<circle cx="509.6" cy="1840.3" r="7.8" fill="#8ccbdc"/>
<circle cx="514.7" cy="1840.3" r="7.8" fill="#8ccbdc"/>
<circle cx="519.81" cy="1840.3" r="7.8" fill="#8ccbdc"/>
<circle cx="483.28" cy="1844.3" r="7.8" fill="#8ccbdc"/>
<circle cx="488.21" cy="1844.3" r="7.8" fill="#8ccbdc"/>
<circle cx="493.15" cy="1844.3" r="7.8" fill="#8ccbdc"/>
<circle cx="498.09" cy="1844.3" r="7.8" fill="#8ccbdc"/>
<circle cx="503.03" cy="1844.3" r="7.8" fill="#8ccbdc"/>
<circle cx="507.97" cy="1844.3" r="7.8" fill="#8ccbdc"/>
<circle cx="512.9" cy="1844.3" r="7.8" fill="#8ccbdc"/>
<circle cx="517.84" cy="1844.3" r="7.8" fill="#8ccbdc"/>
<circle cx="481.15" cy="1848.3" r="7.8" fill="#8ccbdc"/>
<circle cx="486.16" cy="1848.3" r="7.8" fill="#8ccbdc"/>
<circle cx="491.17" cy="1848.3" r="7.8" fill="#8ccbdc"/>
<circle cx="496.18" cy="1848.3" r="7.8" fill="#8ccbdc"/>
<circle cx="501.19" cy="1848.3" r="7.8" fill="#8ccbdc"/>
<circle cx="506.2" cy="1848.3" r="7.8" fill="#8ccbdc"/>
<circle cx="511.21" cy="1848.3" r="7.8" fill="#8ccbdc"/>
<circle cx="516.22" cy="1848.3" r="7.8" fill="#8ccbdc"/>
<circle cx="478.64" cy="1852.3" r="7.8" fill="#8ccbdc"/>
<circle cx="483.79" cy="1852.3" r="7.8" fill="#8ccbdc"/>
<circle cx="488.94" cy="1852.3" r="7.8" fill="#8ccbdc"/>
<circle cx="494.09" cy="1852.3" r="7.8" fill="#8ccbdc"/>
<circle cx="499.24" cy="1852.3" r="7.8" fill="#8ccbdc"/>
<circle cx="504.39" cy="1852.3" r="7.8" fill="#8ccbdc"/>
<circle cx="509.54" cy="1852.3" r="7.8" fill="#8ccbdc"/>
<circle cx="514.69" cy="1852.3" r="7.8" fill="#8ccbdc"/>
<circle cx="477" cy="1856.3" r="7.8" fill="#8ccbdc"/>
<circle cx="482.19" cy="1856.3" r="7.8" fill="#8ccbdc"/>
<circle cx="487.37" cy="1856.3" r="7.8" fill="#8ccbdc"/>
<circle cx="492.56" cy="1856.3" r="7.8" fill="#8ccbdc"/>
<circle cx="497.75" cy="1856.3" r="7.8" fill="#8ccbdc"/>
<circle cx="502.93" cy="1856.3" r="7.8" fill="#8ccbdc"/>
<circle cx="508.12" cy="1856.3" r="7.8" fill="#8ccbdc"/>
<circle cx="513.3" cy="1856.3" r="7.8" fill="#8ccbdc"/>
<circle cx="477" cy="1860.3" r="7.8" fill="#8ccbdc"/>
<circle cx="482.03" cy="1860.3" r="7.8" fill="#8ccbdc"/>
<circle cx="487.05" cy="1860.3" r="7.8" fill="#8ccbdc"/>
<circle cx="492.08" cy="1860.3" r="7.8" fill="#8ccbdc"/>
<circle cx="497.1" cy="1860.3" r="7.8" fill="#8ccbdc"/>
<circle cx="502.13" cy="1860.3" r="7.8" fill="#8ccbdc"/>
<circle cx="507.15" cy="1860.3" r="7.8" fill="#8ccbdc"/>
<circle cx="512.18" cy="1860.3" r="7.8" fill="#8ccbdc"/>
<circle cx="476.91" cy="1864.3" r="7.8" fill="#8ccbdc"/>
<circle cx="481.82" cy="1864.3" r="7.8" fill="#8ccbdc"/>
<circle cx="486.74" cy="1864.3" r="7.8" fill="#8ccbdc"/>
<circle cx="491.65" cy="1864.3" r="7.8" fill="#8ccbdc"/>
<circle cx="496.56" cy="1864.3" r="7.8" fill="#8ccbdc"/>
<circle cx="501.47" cy="1864.3" r="7.8" fill="#8ccbdc"/>
<circle cx="506.39" cy="1864.3" r="7.8" fill="#8ccbdc"/>
<circle cx="511.3" cy="1864.3" r="7.8" fill="#8ccbdc"/>
<circle cx="476.52" cy="1868.3" r="7.8" fill="#8ccbdc"/>
<circle cx="481.49" cy="1868.3" r="7.8" fill="#8ccbdc"/>
<circle cx="486.46" cy="1868.3" r="7.8" fill="#8ccbdc"/>
<circle cx="491.42" cy="1868.3" r="7.8" fill="#8ccbdc"/>
<circle cx="496.39" cy="1868.3" r="7.8" fill="#8ccbdc"/>
<circle cx="501.36" cy="1868.3" r="7.8" fill="#8ccbdc"/>
<circle cx="506.33" cy="1868.3" r="7.8" fill="#8ccbdc"/>
<circle cx="511.3" cy="1868.3" r="7.8" fill="#8ccbdc"/>
<circle cx="476.12" cy="1872.3" r="7.8" fill="#8ccbdc"/>
<circle cx="481.15" cy="1872.3" r="7.8" fill="#8ccbdc"/>
<circle cx="486.17" cy="1872.3" r="7.8" fill="#8ccbdc"/>
<circle cx="491.2" cy="1872.3" r="7.8" fill="#8ccbdc"/>
<circle cx="496.22" cy="1872.3" r="7.8" fill="#8ccbdc"/>
<circle cx="501.25" cy="1872.3" r="7.8" fill="#8ccbdc"/>
<circle cx="506.27" cy="1872.3" r="7.8" fill="#8ccbdc"/>
<circle cx="511.3" cy="1872.3" r="7.8" fill="#8ccbdc"/>
<circle cx="475.87" cy="1876.3" r="7.8" fill="#8ccbdc"/>
<circle cx="480.84" cy="1876.3" r="7.8" fill="#8ccbdc"/>
<circle cx="485.81" cy="1876.3" r="7.8" fill="#8ccbdc"/>
<circle cx="490.78" cy="1876.3" r="7.8" fill="#8ccbdc"/>
<circle cx="495.75" cy="1876.3" r="7.8" fill="#8ccbdc"/>
<circle cx="500.72" cy="1876.3" r="7.8" fill="#8ccbdc"/>
<circle cx="505.69" cy="1876.3" r="7.8" fill="#8ccbdc"/>
<circle cx="510.66" cy="1876.3" r="7.8" fill="#8ccbdc"/>
<circle cx="476.27" cy="1880.3" r="7.8" fill="#8ccbdc"/>
<circle cx="481.39" cy="1880.3" r="7.8" fill="#8ccbdc"/>
<circle cx="486.52" cy="1880.3" r="7.8" fill="#8ccbdc"/>
<circle cx="491.65" cy="1880.3" r="7.8" fill="#8ccbdc"/>
<circle cx="496.77" cy="1880.3" r="7.8" fill="#8ccbdc"/>
<circle cx="501.9" cy="1880.3" r="7.8" fill="#8ccbdc"/>
<circle cx="507.03" cy="1880.3" r="7.8" fill="#8ccbdc"/>
<circle cx="476.66" cy="1884.3" r="7.8" fill="#8ccbdc"/>
<circle cx="482.01" cy="1884.3" r="7.8" fill="#8ccbdc"/>
<circle cx="487.35" cy="1884.3" r="7.8" fill="#8ccbdc"/>
<circle cx="492.7" cy="1884.3" r="7.8" fill="#8ccbdc"/>
<circle cx="498.05" cy="1884.3" r="7.8" fill="#8ccbdc"/>
<circle cx="503.39" cy="1884.3" r="7.8" fill="#8ccbdc"/>
<circle cx="476.94" cy="1888.3" r="7.8" fill="#8ccbdc"/>
<circle cx="481.49" cy="1888.3" r="7.8" fill="#8ccbdc"/>
<circle cx="486.05" cy="1888.3" r="7.8" fill="#8ccbdc"/>
<circle cx="490.6" cy="1888.3" r="7.8" fill="#8ccbdc"/>
<circle cx="495.15" cy="1888.3" r="7.8" fill="#8ccbdc"/>
<circle cx="499.7" cy="1888.3" r="7.8" fill="#8ccbdc"/>
<circle cx="476.55" cy="1892.3" r="7.8" fill="#8ccbdc"/>
<circle cx="481.35" cy="1892.3" r="7.8" fill="#8ccbdc"/>
<circle cx="486.14" cy="1892.3" r="7.8" fill="#8ccbdc"/>
<circle cx="490.94" cy="1892.3" r="7.8" fill="#8ccbdc"/>
<circle cx="495.74" cy="1892.3" r="7.8" fill="#8ccbdc"/>
<circle cx="476.15" cy="1896.3" r="7.8" fill="#8ccbdc"/>
<circle cx="481.36" cy="1896.3" r="7.8" fill="#8ccbdc"/>
<circle cx="486.57" cy="1896.3" r="7.8" fill="#8ccbdc"/>
<circle cx="491.77" cy="1896.3" r="7.8" fill="#8ccbdc"/>
<circle cx="475.84" cy="1900.3" r="7.8" fill="#8ccbdc"/>
<circle cx="482.02" cy="1900.3" r="7.8" fill="#8ccbdc"/>
<circle cx="488.2" cy="1900.3" r="7.8" fill="#8ccbdc"/>
<circle cx="476.23" cy="1904.3" r="7.8" fill="#8ccbdc"/>
<circle cx="482.22" cy="1904.3" r="7.8" fill="#8ccbdc"/>
<circle cx="488.2" cy="1904.3" r="7.8" fill="#8ccbdc"/>
<circle cx="476.63" cy="1908.3" r="7.8" fill="#8ccbdc"/>
<circle cx="482.41" cy="1908.3" r="7.8" fill="#8ccbdc"/>
<circle cx="488.2" cy="1908.3" r="7.8" fill="#8ccbdc"/>
<circle cx="477.06" cy="1912.3" r="7.8" fill="#8ccbdc"/>
<circle cx="482.58" cy="1912.3" r="7.8" fill="#8ccbdc"/>
<circle cx="488.1" cy="1912.3" r="7.8" fill="#8ccbdc"/>
<circle cx="478.25" cy="1916.3" r="7.8" fill="#8ccbdc"/>
<circle cx="482.17" cy="1916.3" r="7.8" fill="#8ccbdc"/>
<circle cx="486.08" cy="1916.3" r="7.8" fill="#8ccbdc"/>
<circle cx="479.44" cy="1920.3" r="7.8" fill="#8ccbdc"/>
<circle cx="484.07" cy="1920.3" r="7.8" fill="#8ccbdc"/>
<circle cx="480.6" cy="1924.3" r="7.8" fill="#8ccbdc"/>
<circle cx="482.08" cy="1924.3" r="7.8" fill="#8ccbdc"/>
<circle cx="480.6" cy="1928.3" r="7.8" fill="#8ccbdc"/>
<circle cx="481.26" cy="1928.3" r="7.8" fill="#8ccbdc"/>
<circle cx="480.52" cy="1932.3" r="7.8" fill="#8ccbdc"/>
<circle cx="480.11" cy="1936.3" r="7.8" fill="#8ccbdc"/>
<circle cx="480.98" cy="1940.3" r="7.8" fill="#8ccbdc"/>
<circle cx="482.35" cy="1940.3" r="7.8" fill="#8ccbdc"/>
<circle cx="481.38" cy="1944.3" r="7.8" fill="#8ccbdc"/>
<circle cx="485.17" cy="1944.3" r="7.8" fill="#8ccbdc"/>
<circle cx="481.77" cy="1948.3" r="7.8" fill="#8ccbdc"/>
<circle cx="487.99" cy="1948.3" r="7.8" fill="#8ccbdc"/>
<circle cx="482.93" cy="1952.3" r="7.8" fill="#8ccbdc"/>
<circle cx="487.44" cy="1952.3" r="7.8" fill="#8ccbdc"/>
<circle cx="484.15" cy="1956.3" r="7.8" fill="#8ccbdc"/>
<circle cx="486.61" cy="1956.3" r="7.8" fill="#8ccbdc"/>
<circle cx="485.38" cy="1960.3" r="7.8" fill="#8ccbdc"/>
<circle cx="485.78" cy="1960.3" r="7.8" fill="#8ccbdc"/>
<circle cx="584.5" cy="1667.4" r="7.8" fill="#8ccbdc"/>
<circle cx="628.2" cy="1671.1" r="7.8" fill="#8ccbdc"/>
<circle cx="623.2" cy="1682.8" r="7.8" fill="#8ccbdc"/>
<circle cx="662.5" cy="1679.5" r="7.8" fill="#8ccbdc"/>
<circle cx="543.2" cy="1698.8" r="7.8" fill="#8ccbdc"/>
<circle cx="555.5" cy="1692.6" r="7.8" fill="#8ccbdc"/>
<circle cx="550.6" cy="1712.3" r="7.8" fill="#8ccbdc"/>
<circle cx="558" cy="1718.5" r="7.8" fill="#8ccbdc"/>
<circle cx="574" cy="1709.8" r="7.8" fill="#8ccbdc"/>
<circle cx="578.9" cy="1718.5" r="7.8" fill="#8ccbdc"/>
<circle cx="581.4" cy="1727.1" r="7.8" fill="#8ccbdc"/>
<circle cx="591.2" cy="1729.5" r="7.8" fill="#8ccbdc"/>
<circle cx="593.7" cy="1738.2" r="7.8" fill="#8ccbdc"/>
<circle cx="604.8" cy="1713.5" r="7.8" fill="#8ccbdc"/>
<circle cx="596.2" cy="1685.2" r="7.8" fill="#8ccbdc"/>
<circle cx="630.6" cy="1711.1" r="7.8" fill="#8ccbdc"/>
<circle cx="626.9" cy="1729.5" r="7.8" fill="#8ccbdc"/>
<circle cx="652.8" cy="1707.4" r="7.8" fill="#8ccbdc"/>
<circle cx="533.4" cy="1729.5" r="7.8" fill="#8ccbdc"/>
<circle cx="546.9" cy="1762.8" r="7.8" fill="#8ccbdc"/>
<circle cx="519.8" cy="1772.6" r="7.8" fill="#8ccbdc"/>
<circle cx="538.3" cy="1773.8" r="7.8" fill="#8ccbdc"/>
<circle cx="676" cy="1691.8" r="7.8" fill="#8ccbdc"/>
<circle cx="792.3" cy="1630.9" r="7.8" fill="#8ccbdc"/>
<circle cx="710.5" cy="1654.3" r="7.8" fill="#8ccbdc"/>
<circle cx="706.2" cy="1685.1" r="7.8" fill="#8ccbdc"/>
<circle cx="698.2" cy="1697.4" r="7.8" fill="#8ccbdc"/>
<circle cx="886" cy="1677" r="7.8" fill="#8ccbdc"/>
<circle cx="1035" cy="1699.4" r="7.8" fill="#8ccbdc"/>
<circle cx="543.8" cy="1701.5" r="7.8" fill="#8ccbdc"/>
<circle cx="550.8" cy="1713" r="7.8" fill="#8ccbdc"/>
<circle cx="557.7" cy="1717.7" r="7.8" fill="#8ccbdc"/>
<circle cx="574.6" cy="1710" r="7.8" fill="#8ccbdc"/>
<circle cx="579.2" cy="1721.5" r="7.8" fill="#8ccbdc"/>
<circle cx="587" cy="1727.7" r="7.8" fill="#8ccbdc"/>
<circle cx="533.1" cy="1730.8" r="7.8" fill="#8ccbdc"/>
<circle cx="548.5" cy="1738.5" r="7.8" fill="#8ccbdc"/>
<circle cx="548.5" cy="1764.6" r="7.8" fill="#8ccbdc"/>
<circle cx="540.8" cy="1776.9" r="7.8" fill="#8ccbdc"/>
<circle cx="520.8" cy="1779.2" r="7.8" fill="#8ccbdc"/>
<circle cx="522.3" cy="1790.8" r="7.8" fill="#8ccbdc"/>
<circle cx="515.4" cy="1796.9" r="7.8" fill="#8ccbdc"/>
<circle cx="528.5" cy="1794.6" r="7.8" fill="#8ccbdc"/>
<circle cx="485.2" cy="1961.8" r="7.8" fill="#8ccbdc"/>
<circle cx="485.7" cy="1996" r="7.8" fill="#8ccbdc"/>
<circle cx="478.8" cy="2016.3" r="7.8" fill="#8ccbdc"/>
<circle cx="558" cy="1670.5" r="7.8" fill="#a9579f"/>
<circle cx="587.5" cy="1681.5" r="7.8" fill="#a9579f"/>
<circle cx="591.2" cy="1692.6" r="7.8" fill="#a9579f"/>
<circle cx="596.2" cy="1698.8" r="7.8" fill="#a9579f"/>
<circle cx="590" cy="1705" r="7.8" fill="#a9579f"/>
<circle cx="603.5" cy="1706.2" r="7.8" fill="#a9579f"/>
<circle cx="612.2" cy="1690.2" r="7.8" fill="#a9579f"/>
<circle cx="614.6" cy="1695" r="7.8" fill="#a9579f"/>
<circle cx="647.8" cy="1692.6" r="7.8" fill="#a9579f"/>
<circle cx="647.8" cy="1716" r="7.8" fill="#a9579f"/>
<circle cx="617.1" cy="1721" r="7.8" fill="#a9579f"/>
<circle cx="670.5" cy="1705.4" r="7.8" fill="#a9579f"/>
<circle cx="546.9" cy="1725.8" r="7.8" fill="#a9579f"/>
<circle cx="548.5" cy="1730.8" r="7.8" fill="#a9579f"/>
<circle cx="564.2" cy="1734.5" r="7.8" fill="#a9579f"/>
<circle cx="563.8" cy="1740" r="7.8" fill="#a9579f"/>
<circle cx="583.8" cy="1741.8" r="7.8" fill="#a9579f"/>
<circle cx="581.4" cy="1744.3" r="7.8" fill="#a9579f"/>
<circle cx="587.7" cy="1737" r="7.8" fill="#a9579f"/>
<circle cx="530" cy="1743.8" r="7.8" fill="#a9579f"/>
<circle cx="545.4" cy="1748.5" r="7.8" fill="#a9579f"/>
<circle cx="548.5" cy="1752.3" r="7.8" fill="#a9579f"/>
<circle cx="536.9" cy="1760" r="7.8" fill="#a9579f"/>
<circle cx="529.2" cy="1773.1" r="7.8" fill="#a9579f"/>
<circle cx="535.8" cy="1762.8" r="7.8" fill="#a9579f"/>
<circle cx="587.7" cy="1704.6" r="7.8" fill="#a9579f"/>
<circle cx="704.3" cy="1669.7" r="7.8" fill="#a9579f"/>
<circle cx="708" cy="1729.4" r="7.8" fill="#a9579f"/>
<circle cx="711.7" cy="1725.7" r="7.8" fill="#a9579f"/>
<circle cx="812" cy="1705" r="7.8" fill="#a9579f"/>
<circle cx="906" cy="1709" r="7.8" fill="#a9579f"/>
<circle cx="958" cy="1717.6" r="7.8" fill="#a9579f"/>
<circle cx="1015" cy="1707" r="7.8" fill="#a9579f"/>
<circle cx="501.2" cy="1818.2" r="7.8" fill="#a9579f"/>
<circle cx="503.5" cy="1832" r="7.8" fill="#a9579f"/>
<circle cx="521.5" cy="1817.2" r="7.8" fill="#a9579f"/>
<circle cx="523.8" cy="1829.2" r="7.8" fill="#a9579f"/>
<circle cx="517.4" cy="1846.8" r="7.8" fill="#a9579f"/>
<circle cx="489.7" cy="1867.1" r="7.8" fill="#a9579f"/>
<circle cx="501.7" cy="1865.2" r="7.8" fill="#a9579f"/>
<circle cx="511.8" cy="1866.2" r="7.8" fill="#a9579f"/>
<circle cx="486.9" cy="1879.1" r="7.8" fill="#a9579f"/>
<circle cx="488" cy="1871.8" r="7.8" fill="#a9579f"/>
<circle cx="509.2" cy="1870.9" r="7.8" fill="#a9579f"/>
<circle cx="487.1" cy="1885.7" r="7.8" fill="#a9579f"/>
<circle cx="488" cy="1893" r="7.8" fill="#a9579f"/>
<circle cx="500" cy="1890.3" r="7.8" fill="#a9579f"/>
<circle cx="495.4" cy="1884.8" r="7.8" fill="#a9579f"/>
<circle cx="486.6" cy="1968.8" r="7.8" fill="#a9579f"/>
<circle cx="485.2" cy="2010.3" r="7.8" fill="#a9579f"/>
<circle cx="879.4" cy="1985" r="7.8" fill="#a9579f"/>
<circle cx="879.4" cy="2056.4" r="7.8" fill="#8ccbdc"/>
<text transform="translate(936.24,1999.6) scale(0.9263,1)" font-size="45.49" fill="#000" stroke="#000">HRD-High</text>
<text transform="translate(936.31,2070.5) scale(0.9241,1)" font-size="44.77" fill="#000" stroke="#000">HRD-Low</text>
<path d="M375.5,1575.9H1142.5V2087.1H375.5Z" fill="none" stroke="#000" stroke-width="3"/>
<path d="M355.5,1575.9H375.5" stroke="#000" stroke-width="2.6"/>
<path d="M355.5,1678.14H375.5" stroke="#000" stroke-width="2.6"/>
<path d="M355.5,1780.38H375.5" stroke="#000" stroke-width="2.6"/>
<path d="M355.5,1882.62H375.5" stroke="#000" stroke-width="2.6"/>
<path d="M355.5,1984.86H375.5" stroke="#000" stroke-width="2.6"/>
<path d="M355.5,2087.1H375.5" stroke="#000" stroke-width="2.6"/>
<path d="M375.5,2087.1V2107.1" stroke="#000" stroke-width="2.6"/>
<path d="M528.9,2087.1V2107.1" stroke="#000" stroke-width="2.6"/>
<path d="M682.3,2087.1V2107.1" stroke="#000" stroke-width="2.6"/>
<path d="M835.7,2087.1V2107.1" stroke="#000" stroke-width="2.6"/>
<path d="M989.1,2087.1V2107.1" stroke="#000" stroke-width="2.6"/>
<path d="M1142.5,2087.1V2107.1" stroke="#000" stroke-width="2.6"/>
<text transform="translate(357.54,2148.7) scale(0.9756,1)" font-size="41.68" fill="#000" stroke="#000">-2</text>
<text transform="translate(517.56,2148.3) scale(0.9925,1)" font-size="41.10" fill="#000" stroke="#000">0</text>
<text transform="translate(670.4,2148.7) scale(1.0271,1)" font-size="41.68" fill="#000" stroke="#000">2</text>
<text transform="translate(825.06,2148.7) scale(0.9149,1)" font-size="42.30" fill="#000" stroke="#000">4</text>
<text transform="translate(977.2,2148.3) scale(1.0282,1)" font-size="41.10" fill="#000" stroke="#000">6</text>
<text transform="translate(1130.94,2148.3) scale(1.0111,1)" font-size="41.10" fill="#000" stroke="#000">8</text>
<text transform="translate(272.17,1590) scale(0.9592,1)" font-size="40.96" fill="#000" stroke="#000">0. 0</text>
<path transform="translate(272.17,1590) scale(0.9592,1) translate(34.16,0) scale(0.02000,-0.02000)" d="M696,0L696,1409L582,1409L104,1091L104,888L481,1062L481,0Z" fill="#000" stroke="#000" stroke-width="0.35" vector-effect="non-scaling-stroke"/>
<text transform="translate(272.16,1692.24) scale(0.9607,1)" font-size="40.96" fill="#000" stroke="#000">0.05</text>
<text transform="translate(272.17,1794.48) scale(0.9592,1)" font-size="40.96" fill="#000" stroke="#000">0.00</text>
<text transform="translate(259.46,1896.72) scale(0.9564,1)" font-size="40.96" fill="#000" stroke="#000">-0.05</text>
<text transform="translate(259.46,1998.96) scale(0.9551,1)" font-size="40.96" fill="#000" stroke="#000">-0. 0</text>
<path transform="translate(259.46,1998.96) scale(0.9551,1) translate(47.80,0) scale(0.02000,-0.02000)" d="M696,0L696,1409L582,1409L104,1091L104,888L481,1062L481,0Z" fill="#000" stroke="#000" stroke-width="0.35" vector-effect="non-scaling-stroke"/>
<text transform="translate(259.46,2101.2) scale(0.9564,1)" font-size="40.96" fill="#000" stroke="#000">-0. 5</text>
<path transform="translate(259.46,2101.2) scale(0.9564,1) translate(47.80,0) scale(0.02000,-0.02000)" d="M696,0L696,1409L582,1409L104,1091L104,888L481,1062L481,0Z" fill="#000" stroke="#000" stroke-width="0.35" vector-effect="non-scaling-stroke"/>
<text transform="translate(185.87,1941.78) rotate(-90) scale(0.9506,1)" font-size="43.57" fill="#000" stroke="#000">SHAP value</text>
<text transform="translate(236,2090.09) rotate(-90) scale(0.9971,1)" font-size="41.95" fill="#000" stroke="#000">(impact on HRD probability)</text>
<text transform="translate(577.7,2209.51) scale(0.9558,1)" font-size="43.34" fill="#000" stroke="#000">Expression (scaled)</text>
<text transform="translate(156.6,1552.8) scale(0.9721,1)" font-size="55.23" fill="#231f20" stroke="#231f20">D</text>
</svg></body></html>
